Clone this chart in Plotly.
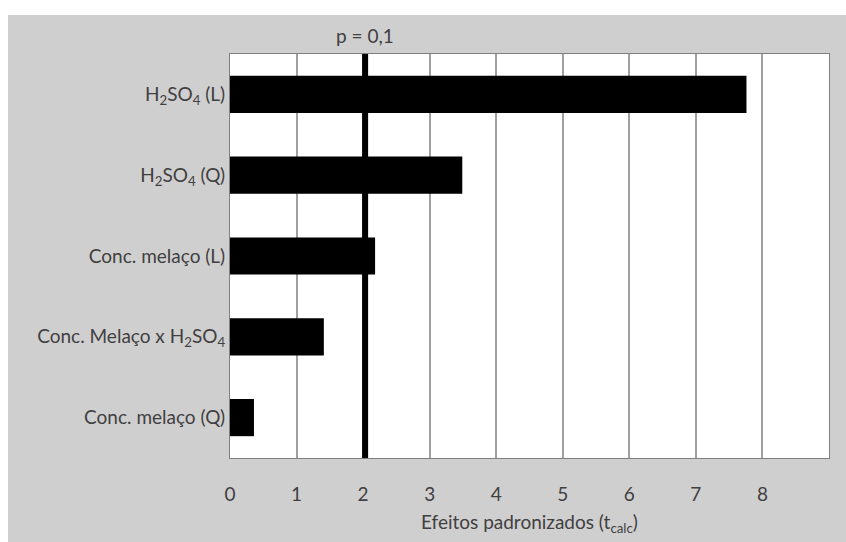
import plotly.graph_objects as go

categories = [
    "H<sub>2</sub>SO<sub>4</sub> (L)",
    "H<sub>2</sub>SO<sub>4</sub> (Q)",
    "Conc. melaço (L)",
    "Conc. Melaço x H<sub>2</sub>SO<sub>4</sub>",
    "Conc. melaço (Q)",
]
effects = [7.76, 3.49, 2.18, 1.41, 0.36]
p_value_line = 2.03
p_label = "p = 0,1"
x_tick_vals = [0, 1, 2, 3, 4, 5, 6, 7, 8]
x_title = "Efeitos padronizados (t<sub>calc</sub>)"

BG = "#d0cfd0"
TXT = "#404040"
FONT = "Lato"
FS = 19

fig = go.Figure()
fig.add_trace(go.Bar(
    x=effects, y=categories, orientation="h",
    marker=dict(color="black", line=dict(width=0)),
    width=0.46, showlegend=False,
))

fig.add_shape(type="line", xref="x", yref="paper", x0=p_value_line, x1=p_value_line,
              y0=0, y1=1, line=dict(color="black", width=6))
# white strips at top and left of the picture
fig.add_shape(type="rect", xref="paper", yref="paper", x0=-0.5, x1=1.2, y0=1.0965, y1=1.3,
              fillcolor="white", line=dict(width=0), layer="below")
fig.add_shape(type="rect", xref="paper", yref="paper", x0=-0.5, x1=-0.3706, y0=-0.3, y1=1.3,
              fillcolor="white", line=dict(width=0), layer="below")

fig.add_annotation(text=p_label, x=p_value_line, xref="x", y=1.047, yref="paper",
                   showarrow=False, font=dict(family=FONT, size=FS, color=TXT),
                   xanchor="center", yanchor="middle")
fig.add_annotation(text=x_title, x=0.5, xref="paper", y=-0.161, yref="paper",
                   showarrow=False, font=dict(family=FONT, size=FS, color=TXT),
                   xanchor="center", yanchor="middle")

fig.update_layout(
    width=846, height=542,
    margin=dict(l=230, r=17, t=54, b=84),
    paper_bgcolor=BG, plot_bgcolor="white",
    font=dict(family=FONT, size=FS, color=TXT),
    bargap=0.54,
    xaxis=dict(range=[0, 9], tickvals=x_tick_vals, showgrid=True, gridcolor="#a0a0a0",
               gridwidth=1.5, zeroline=False, showline=True, linecolor="#808080",
               linewidth=1, mirror=True, ticks="outside", ticklen=19,
               tickcolor="rgba(0,0,0,0)", tickfont=dict(family=FONT, size=FS, color=TXT)),
    yaxis=dict(categoryorder="array", categoryarray=categories[::-1], showgrid=False,
               zeroline=False, showline=True, linecolor="#808080", linewidth=1,
               mirror=True, ticks="", tickfont=dict(family=FONT, size=FS, color=TXT)),
)

fig.write_html("out.html", config={"displayModeBar": False},
               post_script="document.body.style.margin='0px';")
